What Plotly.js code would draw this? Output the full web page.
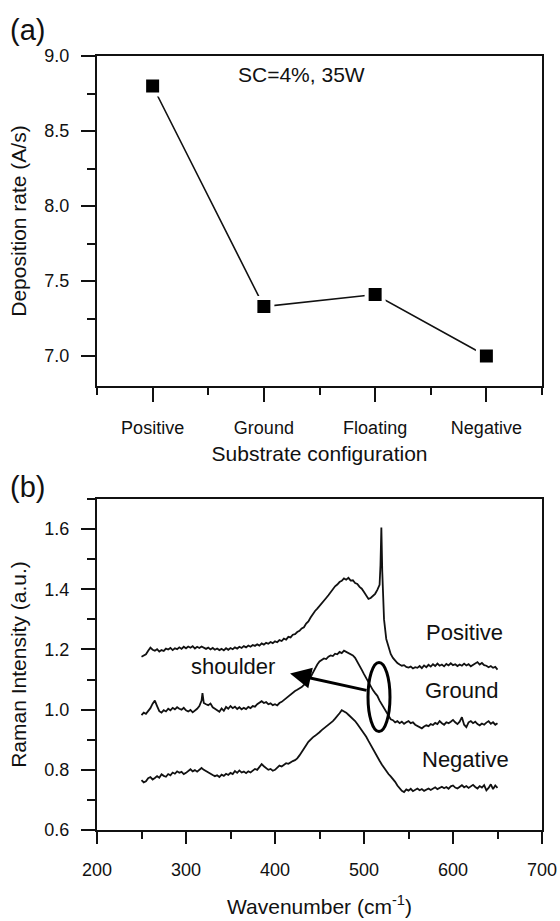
<!DOCTYPE html>
<html>
<head>
<meta charset="utf-8">
<script src="https://cdn.plot.ly/plotly-3.0.1.min.js"></script>
<style>html,body{margin:0;padding:0;background:#fff;}#chart{width:560px;height:921px;}</style>
</head>
<body>
<div id="chart"></div>
<script>
// Panel (a): deposition rate vs substrate configuration
const configCategories = ["Positive", "Ground", "Floating", "Negative"];
const configIndex = [0, 1, 2, 3];
const depositionRate = [8.80, 7.33, 7.41, 7.00];

// Panel (b): Raman spectra
const wnPositive = [250,252.5,255,257.5,260,262.5,265,267.5,270,272.5,275,277.5,280,282.5,285,287.5,290,292.5,295,297.5,300,302.5,305,307.5,310,312.5,315,317.5,320,322.5,325,327.5,330,332.5,335,337.5,340,342.5,345,347.5,350,352.5,355,357.5,360,362.5,365,367.5,370,372.5,375,377.5,380,382.5,385,387.5,390,392.5,395,397.5,400,402.5,405,407.5,410,412.5,415,417.5,420,422.5,425,427.5,430,432.5,435,437.5,440,442.5,445,447.5,450,452.5,455,457.5,460,462.5,465,467.5,470,472.5,475,477.5,480,482.5,485,487.5,490,492.5,495,497.5,500,502.5,505,507.5,510,512.5,515,517.5,518.5,519.5,520.5,522.5,525,527.5,530,532.5,535,537.5,540,542.5,545,547.5,550,552.5,555,557.5,560,562.5,565,567.5,570,572.5,575,577.5,580,582.5,585,587.5,590,592.5,595,597.5,600,602.5,605,607.5,610,612.5,615,617.5,620,622.5,625,627.5,630,632.5,635,637.5,640,642.5,645,647.5,650];
const intPositive = [1.176,1.180,1.184,1.196,1.206,1.199,1.196,1.201,1.193,1.198,1.195,1.203,1.200,1.205,1.198,1.204,1.201,1.207,1.202,1.209,1.204,1.210,1.206,1.211,1.203,1.209,1.205,1.210,1.207,1.202,1.206,1.200,1.205,1.199,1.203,1.198,1.202,1.197,1.204,1.199,1.205,1.201,1.207,1.203,1.209,1.205,1.211,1.207,1.213,1.209,1.215,1.212,1.217,1.213,1.220,1.216,1.222,1.219,1.225,1.221,1.227,1.224,1.231,1.228,1.236,1.233,1.242,1.240,1.249,1.251,1.258,1.262,1.270,1.274,1.286,1.293,1.306,1.318,1.328,1.336,1.344,1.355,1.362,1.371,1.380,1.391,1.398,1.410,1.416,1.424,1.428,1.436,1.432,1.438,1.429,1.430,1.421,1.418,1.408,1.402,1.391,1.380,1.368,1.371,1.379,1.385,1.398,1.415,1.480,1.605,1.460,1.300,1.235,1.205,1.185,1.172,1.162,1.155,1.150,1.146,1.148,1.142,1.140,1.143,1.137,1.141,1.139,1.145,1.138,1.147,1.141,1.149,1.143,1.151,1.145,1.153,1.146,1.150,1.144,1.152,1.147,1.154,1.148,1.151,1.145,1.150,1.146,1.153,1.147,1.151,1.144,1.149,1.153,1.158,1.150,1.155,1.148,1.146,1.141,1.145,1.139,1.142,1.133];

const wnGround = [250,252.5,255,257.5,260,262.5,265,267.5,270,272.5,275,277.5,280,282.5,285,287.5,290,292.5,295,297.5,300,302.5,305,307.5,310,312.5,315,317.5,318.5,320,322.5,325,327.5,330,332.5,335,337.5,340,342.5,345,347.5,350,352.5,355,357.5,360,362.5,365,367.5,370,372.5,375,377.5,380,382.5,385,387.5,390,392.5,395,397.5,400,402.5,405,407.5,410,412.5,415,417.5,420,422.5,425,427.5,430,432.5,435,437.5,440,442.5,445,447.5,450,452.5,455,457.5,460,462.5,465,467.5,470,472.5,475,477.5,480,482.5,485,487.5,490,492.5,495,497.5,500,502.5,505,507.5,510,512.5,515,517.5,520,522.5,525,527.5,530,532.5,535,537.5,540,542.5,545,547.5,550,552.5,555,557.5,560,562.5,565,567.5,570,572.5,575,577.5,580,582.5,585,587.5,590,592.5,595,597.5,600,602.5,605,607.5,610,612.5,615,617.5,620,622.5,625,627.5,630,632.5,635,637.5,640,642.5,645,647.5,650];
const intGround = [0.982,0.990,0.986,0.995,1.005,1.020,1.030,1.012,0.995,0.990,0.998,0.994,1.003,0.998,1.006,1.001,1.008,1.003,1.000,1.006,0.998,0.994,0.999,0.991,0.996,1.003,1.012,1.030,1.055,1.022,1.018,1.015,1.020,1.008,1.003,0.997,0.993,1.004,0.996,1.009,1.003,1.012,1.005,1.010,1.002,1.008,1.001,1.006,1.002,1.009,1.005,1.012,1.010,1.018,1.024,1.028,1.022,1.025,1.018,1.021,1.015,1.018,1.014,1.022,1.026,1.032,1.038,1.045,1.052,1.058,1.062,1.066,1.070,1.075,1.082,1.090,1.098,1.108,1.122,1.138,1.150,1.160,1.166,1.170,1.168,1.176,1.180,1.178,1.186,1.184,1.192,1.188,1.196,1.192,1.190,1.184,1.180,1.172,1.160,1.145,1.132,1.118,1.104,1.090,1.078,1.065,1.055,1.046,1.030,1.018,1.005,0.992,0.978,0.968,0.965,0.958,0.962,0.955,0.960,0.953,0.958,0.962,0.955,0.958,0.950,0.946,0.942,0.938,0.944,0.948,0.945,0.952,0.949,0.956,0.952,0.962,0.955,0.950,0.958,0.955,0.960,0.966,0.958,0.952,0.960,0.975,0.950,0.942,0.958,0.962,0.955,0.960,0.952,0.948,0.954,0.950,0.957,0.962,0.953,0.958,0.950,0.955];

const wnNegative = [250,252.5,255,257.5,260,262.5,265,267.5,270,272.5,275,277.5,280,282.5,285,287.5,290,292.5,295,297.5,300,302.5,305,307.5,310,312.5,315,317.5,320,322.5,325,327.5,330,332.5,335,337.5,340,342.5,345,347.5,350,352.5,355,357.5,360,362.5,365,367.5,370,372.5,375,377.5,380,382.5,385,387.5,390,392.5,395,397.5,400,402.5,405,407.5,410,412.5,415,417.5,420,422.5,425,427.5,430,432.5,435,437.5,440,442.5,445,447.5,450,452.5,455,457.5,460,462.5,465,467.5,470,472.5,475,477.5,480,482.5,485,487.5,490,492.5,495,497.5,500,502.5,505,507.5,510,512.5,515,517.5,520,522.5,525,527.5,530,532.5,535,537.5,540,542.5,545,547.5,550,552.5,555,557.5,560,562.5,565,567.5,570,572.5,575,577.5,580,582.5,585,587.5,590,592.5,595,597.5,600,602.5,605,607.5,610,612.5,615,617.5,620,622.5,625,627.5,630,632.5,635,637.5,640,642.5,645,647.5,650];
const intNegative = [0.766,0.758,0.762,0.772,0.776,0.768,0.773,0.779,0.774,0.785,0.780,0.777,0.786,0.782,0.791,0.787,0.795,0.790,0.793,0.786,0.790,0.797,0.802,0.795,0.799,0.794,0.801,0.806,0.800,0.795,0.792,0.787,0.783,0.779,0.782,0.776,0.784,0.780,0.787,0.783,0.790,0.786,0.796,0.790,0.798,0.791,0.794,0.789,0.795,0.791,0.797,0.803,0.800,0.808,0.819,0.812,0.806,0.800,0.803,0.797,0.800,0.808,0.814,0.811,0.818,0.822,0.820,0.826,0.829,0.832,0.838,0.848,0.858,0.870,0.882,0.893,0.902,0.908,0.913,0.918,0.925,0.932,0.938,0.944,0.948,0.956,0.962,0.970,0.978,0.988,0.998,0.994,0.990,0.983,0.976,0.970,0.962,0.952,0.942,0.932,0.921,0.910,0.896,0.882,0.868,0.855,0.843,0.830,0.818,0.806,0.796,0.786,0.778,0.770,0.760,0.748,0.738,0.730,0.726,0.735,0.731,0.737,0.729,0.734,0.738,0.732,0.736,0.730,0.735,0.738,0.733,0.739,0.742,0.736,0.740,0.744,0.739,0.743,0.737,0.745,0.748,0.741,0.738,0.745,0.749,0.742,0.746,0.740,0.744,0.750,0.743,0.738,0.746,0.741,0.749,0.732,0.740,0.752,0.736,0.748,0.740];

const FONT = "Liberation Sans, Arial, Helvetica, sans-serif";
const INK = "#111111";

const traces = [
  {x: configIndex, y: depositionRate, xaxis: "x", yaxis: "y", type: "scatter", mode: "lines+markers",
   line: {color: INK, width: 1.6},
   marker: {symbol: "square", size: 17, color: "#000", line: {color: "#fff", width: 4}},
   hoverinfo: "skip", showlegend: false, cliponaxis: false},
  {x: wnPositive, y: intPositive, xaxis: "x2", yaxis: "y2", type: "scatter", mode: "lines",
   line: {color: INK, width: 1.8}, showlegend: false},
  {x: wnGround, y: intGround, xaxis: "x2", yaxis: "y2", type: "scatter", mode: "lines",
   line: {color: INK, width: 1.8}, showlegend: false},
  {x: wnNegative, y: intNegative, xaxis: "x2", yaxis: "y2", type: "scatter", mode: "lines",
   line: {color: INK, width: 1.8}, showlegend: false}
];

const axisCommon = {
  showgrid: false, zeroline: false, showline: true, mirror: true,
  linecolor: INK, linewidth: 2, ticks: "outside", tickcolor: INK, tickwidth: 2,
  tickfont: {family: FONT, size: 18, color: INK}
};

const layout = {
  width: 560, height: 921,
  margin: {l: 97, r: 18, t: 56, b: 91},
  paper_bgcolor: "#fff", plot_bgcolor: "#fff",
  font: {family: FONT, color: INK},
  xaxis: Object.assign({}, axisCommon, {
    domain: [0, 1], anchor: "y", range: [-0.5, 3.5],
    tickvals: configIndex, ticktext: configCategories, ticklen: 14,
    ticklabelstandoff: 10,
    minor: {tickvals: [-0.5, 0.5, 1.5, 2.5, 3.5], ticklen: 7, tickcolor: INK, tickwidth: 2, ticks: "outside", showgrid: false},
    title: {text: "Substrate configuration", font: {family: FONT, size: 21, color: INK}, standoff: 10}
  }),
  yaxis: Object.assign({}, axisCommon, {
    domain: [0.5736, 1], anchor: "x", range: [6.8, 9.0],
    tick0: 7, dtick: 0.5, tickformat: ".1f", ticklen: 14, ticklabelstandoff: 8,
    minor: {dtick: 0.25, tick0: 7, ticklen: 8, tickcolor: INK, tickwidth: 2, ticks: "outside", showgrid: false},
    title: {text: "Deposition rate (A/s)", font: {family: FONT, size: 21, color: INK}, standoff: 12}
  }),
  xaxis2: Object.assign({}, axisCommon, {
    domain: [0, 1], anchor: "y2", range: [200, 700],
    tick0: 200, dtick: 100, ticklen: 12, ticklabelstandoff: 10,
    minor: {dtick: 50, tick0: 200, ticklen: 7, tickcolor: INK, tickwidth: 2, ticks: "outside", showgrid: false},
    title: {text: "Wavenumber (cm<sup>-1</sup>)", font: {family: FONT, size: 21, color: INK}, standoff: 21}
  }),
  yaxis2: Object.assign({}, axisCommon, {
    domain: [0, 0.4276], anchor: "x2", range: [0.6, 1.7],
    tick0: 0.6, dtick: 0.2, tickformat: ".1f", ticklen: 14, ticklabelstandoff: 8,
    minor: {dtick: 0.1, tick0: 0.6, ticklen: 8, tickcolor: INK, tickwidth: 2, ticks: "outside", showgrid: false},
    title: {text: "Raman Intensity (a.u.)", font: {family: FONT, size: 21, color: INK}, standoff: 12}
  }),
  shapes: [
    {type: "circle", xref: "x2", yref: "y2", x0: 504.5, x1: 529.2, y0: 0.927, y1: 1.157,
     line: {color: "#000", width: 3}}
  ],
  annotations: [
    {text: "(a)", xref: "paper", yref: "paper", x: -0.2, y: 1.034, xanchor: "left", yanchor: "middle",
     showarrow: false, font: {family: FONT, size: 29, color: INK}},
    {text: "(b)", xref: "paper", yref: "paper", x: -0.2, y: 0.443, xanchor: "left", yanchor: "middle",
     showarrow: false, font: {family: FONT, size: 29, color: INK}},
    {text: "SC=4%, 35W", xref: "x", yref: "y", x: 1.334, y: 8.877, showarrow: false,
     font: {family: FONT, size: 21, color: INK}},
    {text: "Positive", xref: "x2", yref: "y2", x: 612.4, y: 1.257, showarrow: false,
     font: {family: FONT, size: 22, color: INK}},
    {text: "Ground", xref: "x2", yref: "y2", x: 609, y: 1.063, showarrow: false,
     font: {family: FONT, size: 22, color: INK}},
    {text: "Negative", xref: "x2", yref: "y2", x: 613.5, y: 0.833, showarrow: false,
     font: {family: FONT, size: 22, color: INK}},
    {text: "shoulder", xref: "x2", yref: "y2", x: 352.8, y: 1.143, showarrow: false,
     font: {family: FONT, size: 22, color: INK}},
    {text: "", xref: "x2", yref: "y2", x: 416.9, y: 1.12, axref: "x2", ayref: "y2", ax: 504.5, ay: 1.063,
     showarrow: true, arrowhead: 2, arrowsize: 1.4, arrowwidth: 3, arrowcolor: "#000", standoff: 0}
  ]
};

Plotly.newPlot("chart", traces, layout, {staticPlot: true, displayModeBar: false});
</script>
</body>
</html>
